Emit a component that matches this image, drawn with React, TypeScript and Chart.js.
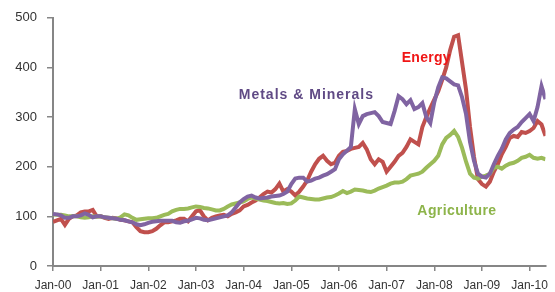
import React, { useEffect, useRef } from "react";
import { Chart, registerables } from "chart.js";

Chart.register(...registerables);

// Month index 0 = Jan-2000 ... 124 = May-2010
const tickLabels = ["Jan-00","Jan-01","Jan-02","Jan-03","Jan-04","Jan-05","Jan-06","Jan-07","Jan-08","Jan-09","Jan-10"];

const energy = [
  // 2000
  89, 92, 95, 83, 95, 100, 102, 108, 110, 110, 113, 100,
  // 2001
  100, 97, 95, 97, 96, 93, 92, 90, 88, 78, 70, 68,
  // 2002
  68, 70, 75, 82, 88, 88, 90, 92, 95, 95, 90, 100,
  // 2003
  110, 112, 100, 92, 97, 100, 102, 103, 100, 105, 108, 112,
  // 2004
  120, 123, 128, 132, 138, 145, 150, 148, 155, 166, 150, 155,
  // 2005
  150, 142, 150, 160, 172, 190, 205, 216, 222, 212, 205, 208,
  // 2006
  222, 230, 232, 236, 238, 240, 248, 235, 215, 205, 215, 210,
  // 2007
  190, 200, 210, 222, 228, 240, 255, 250, 245, 280, 300, 318,
  // 2008
  335, 352, 375, 400, 435, 462, 465, 410, 355, 280, 220, 175,
  // 2009
  165, 160, 170, 190, 205, 225, 240, 258, 262, 260, 270, 268,
  // 2010
  272, 278, 292, 285, 262,
];

const metals = [
  // 2000
  105, 104, 102, 97, 97, 100, 100, 102, 106, 103, 98, 100,
  // 2001
  100, 98, 97, 96, 95, 93, 92, 90, 88, 84, 82, 84,
  // 2002
  87, 89, 90, 91, 91, 91, 91, 88, 87, 90, 91, 94,
  // 2003
  97, 96, 93, 92, 94, 96, 98, 100, 102, 108, 118, 128,
  // 2004
  135, 140, 142, 138, 136, 137, 138, 140, 141, 142, 145, 150,
  // 2005
  165, 176, 178, 178, 170, 172, 176, 178, 182, 185, 190, 195,
  // 2006
  215, 225, 232, 240, 316, 286, 302, 306, 308, 310, 302, 290,
  // 2007
  288, 286, 312, 342, 336, 326, 334, 316, 320, 328, 300, 288,
  // 2008
  330, 360, 380, 378, 372, 366, 364, 340, 306, 250, 212, 186,
  // 2009
  180, 178, 186, 205, 222, 236, 255, 268, 275, 280, 290, 298,
  // 2010
  306, 292, 320, 362, 336,
];

const agriculture = [
  // 2000
  104, 103, 103, 102, 100, 100, 100, 98, 97, 98, 100, 99,
  // 2001
  100, 98, 97, 96, 95, 98, 104, 102, 97, 93, 94, 95,
  // 2002
  96, 96, 97, 100, 103, 105, 110, 113, 115, 115, 116, 118,
  // 2003
  120, 119, 117, 116, 114, 112, 112, 115, 120, 124, 126, 128,
  // 2004
  130, 135, 138, 136, 134, 132, 131, 129, 127, 126, 127, 125,
  // 2005
  126, 132, 140, 138, 136, 135, 134, 134, 136, 138, 139, 142,
  // 2006
  146, 151, 147, 150, 154, 153, 152, 150, 149, 152, 156, 159,
  // 2007
  162, 166, 168, 168, 170, 175, 182, 184, 186, 190, 198, 205,
  // 2008
  212, 222, 245, 258, 264, 272, 260, 238, 210, 186, 178, 176,
  // 2009
  180, 182, 186, 198, 200, 196, 202, 206, 208, 212, 218, 220,
  // 2010
  224, 218, 216, 218, 215,
];

const seriesNames = ["Metals & Minerals", "Agriculture", "Energy"];
const seriesColors = ["#8064a2", "#9bbb59", "#c0504d"];

// Text annotations placed in data units (month index, index value)
const noteTexts = ["Energy", "Metals & Minerals", "Agriculture"];
const noteMonths = [94, 63.8, 101.7];
const noteValues = [418, 344, 110];
const noteColors = ["#f01616", "#604a85", "#8db44a"];
const noteSpacing = ["0.3px", "1px", "0.4px"];

const toPoints = (arr: number[]) => arr.map((v, i) => ({ x: i, y: v }));

const annotationPlugin = {
  id: "notes",
  afterDatasetsDraw(chart: any) {
    const { ctx, scales } = chart;
    ctx.save();
    ctx.font = "bold 14px 'Liberation Sans', Arial, sans-serif";
    ctx.textAlign = "center";
    ctx.textBaseline = "middle";
    noteTexts.forEach((t, i) => {
      ctx.fillStyle = noteColors[i];
      (ctx as any).letterSpacing = noteSpacing[i];
      ctx.fillText(t, scales.x.getPixelForValue(noteMonths[i]), scales.y.getPixelForValue(noteValues[i]));
    });
    ctx.restore();
  },
};

export default function App() {
  const ref = useRef<HTMLCanvasElement | null>(null);
  useEffect(() => {
    document.body.style.margin = "0";
    if (!ref.current) return;
    const all = [metals, agriculture, energy];
    const chart = new Chart(ref.current, {
      type: "line",
      data: {
        datasets: all.map((d, i) => ({
          label: seriesNames[i],
          data: toPoints(d),
          borderColor: seriesColors[i],
          backgroundColor: seriesColors[i],
          borderWidth: 4,
          pointRadius: 0,
          tension: 0,
          fill: false,
        })),
      },
      options: {
        responsive: false,
        animation: false,
        layout: { padding: { top: 16, right: 2, left: 0, bottom: 0 } },
        plugins: { legend: { display: false }, tooltip: { enabled: false } },
        scales: {
          x: {
            type: "linear",
            min: 0,
            max: 124,
            afterFit: (s: any) => { s.height = 26; },
            border: { color: "#868686", width: 2 },
            grid: { drawOnChartArea: false, color: "#868686", lineWidth: 1.5, tickLength: 5 },
            ticks: {
              stepSize: 12,
              includeBounds: false,
              autoSkip: false,
              maxRotation: 0,
              padding: 7,
              color: "#333333",
              font: { family: "'Liberation Sans', Arial, sans-serif", size: 12 },
              callback: (v: any) => tickLabels[Math.round(Number(v) / 12)] ?? "",
            },
          },
          y: {
            min: 0,
            max: 500,
            afterFit: (s: any) => { s.width = 53; },
            border: { color: "#868686", width: 2 },
            grid: { drawOnChartArea: false, color: "#868686", lineWidth: 1.5, tickLength: 6 },
            ticks: {
              stepSize: 100,
              padding: 10,
              color: "#333333",
              font: { family: "'Liberation Sans', Arial, sans-serif", size: 13 },
            },
          },
        },
      },
      plugins: [annotationPlugin],
    });
    return () => chart.destroy();
  }, []);
  return (
    <div style={{ width: 555, height: 292 }}>
      <canvas ref={ref} width={555} height={292} style={{ display: "block" }} />
    </div>
  );
}
